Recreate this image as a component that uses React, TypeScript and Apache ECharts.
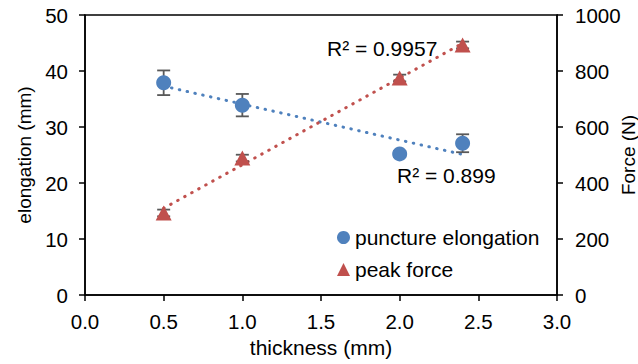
import React, { useEffect, useRef } from "react";
import * as echarts from "echarts";

const thickness = [0.5, 1.0, 2.0, 2.4];
const elongation = [37.9, 33.9, 25.2, 27.1];
const elongationErr = [2.2, 2.0, 0.5, 1.6];
const peakForce = [293, 489, 775, 893];
const peakForceErr = [12, 12, 12, 12];
const trendX = [0.5, 2.4];
const elongationTrend = [37.3, 25.1];
const forceTrend = [310, 899];
const r2Elongation = "R² = 0.899";
const r2Force = "R² = 0.9957";

const BLUE = "#4F81BD";
const RED = "#C0504D";
const FONT = "Liberation Sans, Arial, sans-serif";

export default function App() {
  const ref = useRef<HTMLDivElement>(null);
  useEffect(() => {
    if (!ref.current) return;
    const chart = echarts.init(ref.current, undefined, { renderer: "svg" });
    const errRender = (xs: number[], ys: number[], es: number[]) => (params: any, api: any) => {
      const i = params.dataIndex;
      const top = api.coord([xs[i], ys[i] + es[i]]);
      const bot = api.coord([xs[i], ys[i] - es[i]]);
      const hw = 6.5;
      const st = { stroke: "#595959", lineWidth: 1.8 };
      return {
        type: "group",
        children: [
          { type: "line", shape: { x1: top[0], y1: top[1], x2: bot[0], y2: bot[1] }, style: st },
          { type: "line", shape: { x1: top[0] - hw, y1: top[1], x2: top[0] + hw, y2: top[1] }, style: st },
          { type: "line", shape: { x1: bot[0] - hw, y1: bot[1], x2: bot[0] + hw, y2: bot[1] }, style: st },
        ],
      };
    };
    const axisLine = { show: true, lineStyle: { color: "#000", width: 1.5 } };
    const axisTick = { show: true, inside: false, length: 6, lineStyle: { color: "#000", width: 1.5 } };
    chart.setOption({
      animation: false,
      textStyle: { fontFamily: FONT },
      grid: {
        left: 85,
        right: 81,
        top: 15,
        bottom: 69,
        show: true,
        borderColor: "#000",
        borderWidth: 1.5,
        containLabel: false,
        outerBoundsMode: "none",
      },
      legend: {
        orient: "vertical",
        left: 332,
        top: 222,
        itemWidth: 13,
        itemHeight: 13,
        itemGap: 11,
        textStyle: { fontSize: 21, color: "#000", fontFamily: FONT },
        data: [
          { name: "puncture elongation", icon: "circle" },
          { name: "peak force", icon: "triangle" },
        ],
      },
      xAxis: {
        type: "value",
        min: 0,
        max: 3,
        interval: 0.5,
        name: "thickness (mm)",
        nameLocation: "middle",
        nameGap: 42,
        nameTextStyle: { fontSize: 21, color: "#000", fontFamily: FONT },
        axisLine,
        axisTick,
        splitLine: { show: false },
        axisLabel: { fontSize: 20.5, color: "#000", margin: 16, formatter: (v: number) => v.toFixed(1) },
      },
      yAxis: [
        {
          type: "value",
          min: 0,
          max: 50,
          interval: 10,
          name: "elongation (mm)",
          nameLocation: "middle",
          nameGap: 48,
          nameTextStyle: { fontSize: 19, color: "#000", fontFamily: FONT },
          axisLine,
          axisTick,
          splitLine: { show: false },
          axisLabel: { fontSize: 20.5, color: "#000", margin: 17, formatter: (v: number) => String(v) },
        },
        {
          type: "value",
          min: 0,
          max: 1000,
          interval: 200,
          position: "right",
          name: "Force (N)",
          nameLocation: "middle",
          nameGap: 62,
          nameMoveOverlap: false,
          nameTextStyle: { fontSize: 19, color: "#000", fontFamily: FONT },
          axisLine,
          axisTick,
          splitLine: { show: false },
          axisLabel: { fontSize: 20.5, color: "#000", margin: 18, formatter: (v: number) => String(v) },
        },
      ],
      graphic: [
        { type: "text", left: 327, top: 38, style: { text: r2Force, fontSize: 21, fill: "#000", fontFamily: FONT } },
        { type: "text", left: 397, top: 165, style: { text: r2Elongation, fontSize: 21, fill: "#000", fontFamily: FONT } },
      ],
      series: [
        {
          name: "elongation trend",
          type: "line",
          yAxisIndex: 0,
          showSymbol: false,
          z: 2,
          data: trendX.map((x, i) => [x, elongationTrend[i]]),
          lineStyle: { color: BLUE, width: 3, type: [0.5, 7.5], cap: "round" },
        },
        {
          name: "force trend",
          type: "line",
          yAxisIndex: 1,
          showSymbol: false,
          z: 2,
          data: trendX.map((x, i) => [x, forceTrend[i]]),
          lineStyle: { color: RED, width: 3, type: [0.5, 7.5], cap: "round" },
        },
        {
          name: "elongation err",
          type: "custom",
          yAxisIndex: 0,
          z: 3,
          data: thickness.map((x, i) => [x, elongation[i]]),
          renderItem: errRender(thickness, elongation, elongationErr),
        },
        {
          name: "force err",
          type: "custom",
          yAxisIndex: 1,
          z: 3,
          data: thickness.map((x, i) => [x, peakForce[i]]),
          renderItem: errRender(thickness, peakForce, peakForceErr),
        },
        {
          name: "puncture elongation",
          type: "scatter",
          yAxisIndex: 0,
          z: 4,
          symbol: "circle",
          symbolSize: 15,
          itemStyle: { color: BLUE, opacity: 1 },
          data: thickness.map((x, i) => [x, elongation[i]]),
        },
        {
          name: "peak force",
          type: "scatter",
          yAxisIndex: 1,
          z: 4,
          symbol: "triangle",
          symbolSize: [16, 15],
          itemStyle: { color: RED, opacity: 1 },
          data: thickness.map((x, i) => [x, peakForce[i]]),
        },
      ],
    });
    return () => chart.dispose();
  }, []);
  return <div ref={ref} style={{ position: "fixed", left: 0, top: 0, width: 638, height: 364, background: "#fff" }} />;
}
